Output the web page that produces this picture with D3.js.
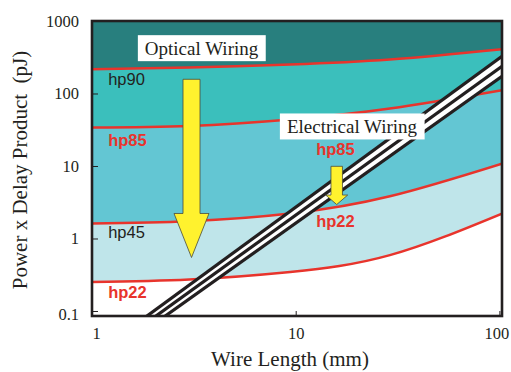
<!DOCTYPE html>
<html>
<head>
<meta charset="utf-8">
<script src="https://cdn.jsdelivr.net/npm/d3@7"></script>
<style>
  body { margin: 0; background: #fff; }
  svg { display: block; }
</style>
</head>
<body>
<div id="chart"></div>
<script>
// wire lengths (mm) where the technology curves were read
const wireLength = [1, 3, 9.4, 29, 103];
// optical power x delay (pJ) per technology node
const hp90 = [216, 228, 251, 294, 408];
const hp85 = [34, 35.7, 43.8, 62, 111];
const hp45 = [1.61, 1.73, 2.21, 3.83, 10.8];
const hp22 = [0.252, 0.272, 0.346, 0.589, 2.21];

// electrical wiring: three straight lines (log-log), values at the two ends
const wireEnds = [1.5, 103];
const electrical = [[0.0547, 327], [0.0448, 238], [0.0366, 173]];

const xTicks = [1, 10, 100];
const yTicks = [0.1, 1, 10, 100, 1000];

// annotations, anchored in data units
const curveLabels = [
  { text: "hp90", L: 1.2, E: 130, red: false },
  { text: "hp85", L: 1.2, E: 18.8, red: true },
  { text: "hp45", L: 1.2, E: 1.0, red: false },
  { text: "hp22", L: 1.2, E: 0.15, red: true },
  { text: "hp85", L: 12.6, E: 14.1, red: true },
  { text: "hp22", L: 12.6, E: 1.45, red: true }
];
const boxLabels = [
  { text: "Optical Wiring", L: 3.45, E: 422 },
  { text: "Electrical Wiring", L: 18.9, E: 35.1 }
];
const arrows = [
  { L: 3.08, from: 157, to: 0.547, shaft: 17, head: 35, headLen: 44 },
  { L: 15.9, from: 9.9, to: 2.94, shaft: 11.5, head: 22, headLen: 9.5 }
];

const width = 511, height = 372;
const m = { left: 92, right: 502, top: 21, bottom: 316 };
const serif = "'Liberation Serif', 'Times New Roman', serif";
const sans = "'Liberation Sans', Arial, sans-serif";
const red = "#e8342c";
const ink = "#231f20";

const svg = d3.select("#chart").append("svg")
  .attr("width", width)
  .attr("height", height);

const x = d3.scaleLog().domain([1, 103]).range([m.left, m.right]);
const y = d3.scaleLog().domain([0.0853, 1000]).range([m.bottom, m.top]);

svg.append("clipPath").attr("id", "plot")
  .append("rect")
  .attr("x", m.left).attr("y", m.top)
  .attr("width", m.right - m.left).attr("height", m.bottom - m.top);

const plot = svg.append("g").attr("clip-path", "url(#plot)");

// colour bands between curves
const bands = [
  { lo: hp90, hi: null, fill: "#287f7e" },
  { lo: hp85, hi: hp90, fill: "#3bbfbc" },
  { lo: hp45, hi: hp85, fill: "#63c6d3" },
  { lo: hp22, hi: hp45, fill: "#bfe5ea" }
];

const area = d3.area()
  .x(d => x(d.L))
  .y0(d => y(d.lo))
  .y1(d => y(d.hi))
  .curve(d3.curveNatural);

bands.forEach(b => {
  const rows = wireLength.map((L, i) => ({ L: L, lo: b.lo[i], hi: b.hi ? b.hi[i] : 1000 }));
  plot.append("path")
    .attr("d", area(rows))
    .attr("fill", b.fill);
});

// technology curves
const line = d3.line()
  .x(d => x(d[0]))
  .y(d => y(d[1]))
  .curve(d3.curveNatural);

[hp90, hp85, hp45, hp22].forEach(vals => {
  plot.append("path")
    .attr("d", line(wireLength.map((L, i) => [L, vals[i]])))
    .attr("fill", "none")
    .attr("stroke", red)
    .attr("stroke-width", 2.5);
});

// electrical wiring: white strip between the outer lines, then the black lines
const first = electrical[0], last = electrical[electrical.length - 1];
const strip = wireEnds.map((L, i) => [x(L), y(first[i])])
  .concat(wireEnds.map((L, i) => [x(L), y(last[i])]).reverse());
plot.append("path")
  .attr("d", "M" + strip.join("L") + "Z")
  .attr("fill", "#fff");

const straight = d3.line().x(d => x(d[0])).y(d => y(d[1]));
electrical.forEach(vals => {
  plot.append("path")
    .attr("d", straight(wireEnds.map((L, i) => [L, vals[i]])))
    .attr("fill", "none")
    .attr("stroke", ink)
    .attr("stroke-width", 3.2);
});

// yellow arrows
arrows.forEach(a => {
  const cx = x(a.L), y0 = y(a.from), y1 = y(a.to), hy = y1 - a.headLen;
  const pts = [
    [cx - a.shaft / 2, y0], [cx + a.shaft / 2, y0], [cx + a.shaft / 2, hy],
    [cx + a.head / 2, hy], [cx, y1], [cx - a.head / 2, hy], [cx - a.shaft / 2, hy]
  ];
  plot.append("path")
    .attr("d", "M" + pts.join("L") + "Z")
    .attr("fill", "#fff22e")
    .attr("stroke", "#4a4a3a")
    .attr("stroke-width", 0.8);
});

// boxed labels
boxLabels.forEach(b => {
  const g = svg.append("g");
  const t = g.append("text")
    .attr("x", x(b.L))
    .attr("y", y(b.E))
    .attr("dy", "0.34em")
    .attr("text-anchor", "middle")
    .attr("font-family", serif)
    .attr("font-size", 19)
    .attr("fill", ink)
    .text(b.text);
  const bb = t.node().getBBox();
  g.insert("rect", "text")
    .attr("x", bb.x - 7)
    .attr("y", y(b.E) - 13)
    .attr("width", bb.width + 14)
    .attr("height", 26)
    .attr("fill", "#fff");
});

// curve labels
curveLabels.forEach(c => {
  svg.append("text")
    .attr("x", x(c.L))
    .attr("y", y(c.E))
    .attr("font-family", sans)
    .attr("font-size", 16.5)
    .attr("font-weight", c.red ? "bold" : "normal")
    .attr("fill", c.red ? red : ink)
    .text(c.text);
});

// axes
const fmt = d => d < 1 ? "0.1" : d3.format("d")(d);

const yAxis = svg.append("g")
  .attr("transform", "translate(" + m.left + ",0)")
  .call(d3.axisLeft(y).tickValues(yTicks).tickFormat(fmt).tickSize(-6).tickPadding(13));

const xAxis = svg.append("g")
  .attr("transform", "translate(0," + m.bottom + ")")
  .call(d3.axisBottom(x).tickValues(xTicks).tickFormat(fmt).tickSize(-5).tickPadding(11));

[xAxis, yAxis].forEach(g => {
  g.select(".domain").remove();
  g.selectAll("line").attr("stroke", ink).attr("stroke-width", 1);
  g.selectAll("text")
    .attr("font-family", serif)
    .attr("font-size", 16.5)
    .attr("fill", ink);
});

// the end labels sit a little inside the frame corners
xAxis.selectAll(".tick text").attr("dx", d => d === 1 ? 4 : d === 100 ? -3 : 0);
yAxis.selectAll(".tick text").filter(d => d === 0.1).attr("dy", "0.52em");

// frame
svg.append("rect")
  .attr("x", m.left).attr("y", m.top)
  .attr("width", m.right - m.left).attr("height", m.bottom - m.top)
  .attr("fill", "none")
  .attr("stroke", ink)
  .attr("stroke-width", 2.6);

// axis titles
svg.append("text")
  .attr("x", 290)
  .attr("y", 366)
  .attr("text-anchor", "middle")
  .attr("font-family", serif)
  .attr("font-size", 21)
  .attr("fill", ink)
  .text("Wire Length (mm)");

svg.append("text")
  .attr("transform", "translate(27,170) rotate(-90)")
  .attr("text-anchor", "middle")
  .attr("font-family", serif)
  .attr("font-size", 21)
  .attr("fill", ink)
  .attr("xml:space", "preserve")
  .text("Power x Delay Product  (pJ)");
</script>
</body>
</html>
